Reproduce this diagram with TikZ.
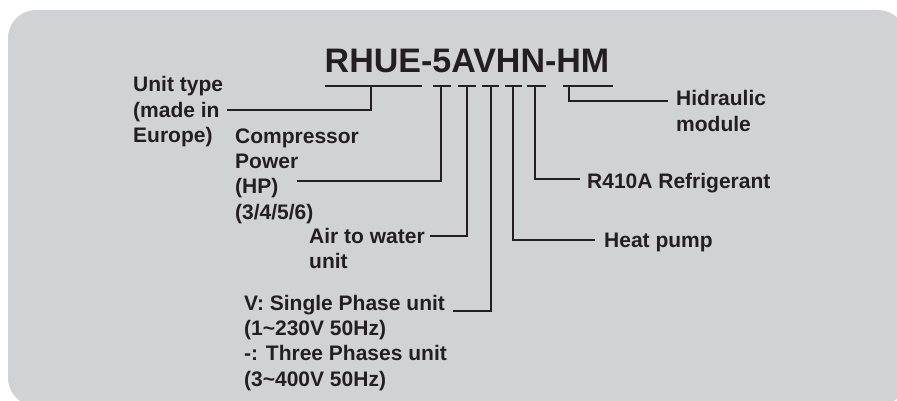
\documentclass[tikz,border=0pt]{standalone}
\usepackage{fontspec}
\setmainfont{Liberation Sans}
\definecolor{panel}{RGB}{209,210,212}
\definecolor{ink}{RGB}{35,31,32}
\begin{document}
\begin{tikzpicture}[x=1pt,y=-1pt,
  lbl/.style={font=\fontsize{21}{25.3}\selectfont\bfseries, text=ink, align=left, inner sep=0pt, anchor=base west},
  conn/.style={draw=ink, line width=2.2pt},
  bar/.style={draw=ink, line width=2.2pt},
]
\useasboundingbox (0,0) rectangle (897,401);
\begin{scope}
\clip (0,0) rectangle (897,401);
\fill[panel, rounded corners=28pt] (8,10) rectangle (906,406);
\end{scope}

\node[font=\fontsize{34}{40}\selectfont\bfseries, text=ink, inner sep=0pt, anchor=base] (title) at (467,73) {RHUE-5AVHN-HM};

% underline bars
\draw[bar] (325,86) -- (422,86);
\draw[bar] (433,86) -- (451,86);
\draw[bar] (458,86) -- (476,86);
\draw[bar] (482,86) -- (499,86);
\draw[bar] (505,86) -- (522,86);
\draw[bar] (527,86) -- (546,86);
\draw[bar] (563,86) -- (613,86);

% labels (anchor = baseline of last line)
\node[lbl] (unit) at (133,142.6) {Unit type\\(made in\\Europe)};
\node[lbl] (comp) at (235,219) {Compressor\\Power\\(HP)\\(3/4/5/6)};
\node[lbl] (air) at (309,268.3) {Air to water\\unit};
\node[lbl] (phase) at (244,386) {V: Single Phase unit\\(1\textasciitilde230V 50Hz)\\-: Three Phases unit\\(3\textasciitilde400V 50Hz)};
\node[lbl] (hydr) at (676,131.3) {Hidraulic\\module};
\node[lbl] (refr) at (587,189) {R410A Refrigerant};
\node[lbl] (heat) at (604,247) {Heat pump};

% tick tops and free ends
\coordinate (t1) at (371,86);  \coordinate (e1) at (227,110);
\coordinate (t2) at (441,86);  \coordinate (e2) at (297,181);
\coordinate (t3) at (467,86);  \coordinate (e3) at (430,236);
\coordinate (t4) at (491,86);  \coordinate (e4) at (453,311);
\coordinate (t5) at (513,86);  \coordinate (e5) at (595,240);
\coordinate (t6) at (535,86);  \coordinate (e6) at (580,179);
\coordinate (t7) at (569,86);  \coordinate (e7) at (668,101);

\foreach \i in {1,...,7} { \draw[conn] (t\i) |- (e\i); }
\end{tikzpicture}
\end{document}
